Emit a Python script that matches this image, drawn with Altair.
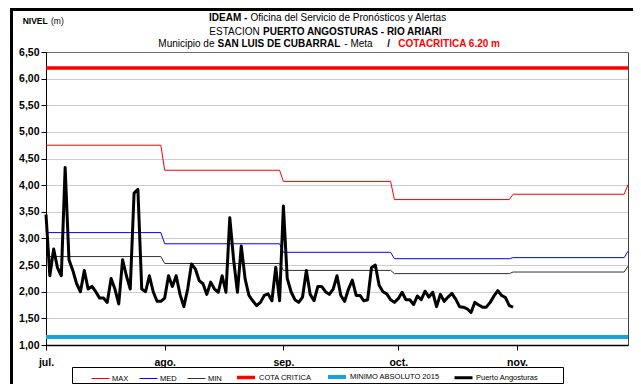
import altair as alt
import pandas as pd

# ---------------- data ----------------
series = ["MAX", "MED", "MIN", "COTA CRITICA", "MINIMO ABSOLUTO 2015", "Puerto Angosturas"]

# monthly reference levels (jul, ago, sep, oct, nov, dic) and the day each one starts
ref_start_days = [0, 31, 62, 91, 122, 152]
ref_max = [4.75, 4.28, 4.07, 3.73, 3.83, 4.01]
ref_med = [3.11, 2.90, 2.74, 2.62, 2.64, 2.76]
ref_min = [2.66, 2.53, 2.40, 2.34, 2.37, 2.48]
cota_critica = 6.20
minimo_absoluto = 1.15
last_day = 152

# daily level Puerto Angosturas from 1 jul
nivel = [
    3.45, 2.30, 2.80, 2.45, 2.30, 4.33, 2.60, 2.40, 2.15, 2.00,
    2.40, 2.05, 2.10, 2.00, 1.88, 1.88, 1.80, 2.25, 2.05, 1.77,
    2.60, 2.30, 2.05, 3.85, 3.92, 2.05, 2.00, 2.30, 2.00, 1.82,
    1.82, 1.88, 2.30, 2.10, 2.30, 1.95, 1.72, 2.05, 2.52, 2.43,
    2.21, 2.15, 1.95, 2.18, 2.05, 1.99, 2.30, 1.99, 3.39, 2.60,
    1.99, 2.86, 2.24, 1.93, 1.83, 1.74, 1.80, 1.93, 1.96, 1.83,
    2.46, 1.83, 3.61, 2.25, 2.00, 1.85, 1.80, 1.90, 2.40, 1.95,
    1.83, 2.10, 2.10, 2.00, 1.95, 2.05, 2.30, 1.93, 1.82, 2.05,
    2.22, 1.93, 1.93, 1.83, 1.85, 2.45, 2.50, 2.12, 2.00, 1.96,
    1.85, 1.80, 1.87, 1.99, 1.85, 1.85, 1.76, 1.92, 1.85, 2.01,
    1.90, 1.99, 1.72, 1.95, 1.82, 1.90, 1.97, 1.86, 1.72, 1.71,
    1.68, 1.61, 1.80, 1.75, 1.71, 1.71, 1.80, 1.92, 2.02, 1.93,
    1.89, 1.74, 1.71,
]

month_ticks = [0, 31, 62, 92, 123]
month_labels = ["jul.", "ago.", "sep.", "oct.", "nov."]
y_ticks = [1.0, 1.5, 2.0, 2.5, 3.0, 3.5, 4.0, 4.5, 5.0, 5.5, 6.0, 6.5]

# ---------------- tables ----------------
rows = []
for name, vals in [("MAX", ref_max), ("MED", ref_med), ("MIN", ref_min)]:
    for i, v in enumerate(vals):
        start = ref_start_days[i]
        rows.append({"dia": start, "nivel": v, "serie": name})
        if i + 1 < len(vals):
            rows.append({"dia": ref_start_days[i + 1] - 1, "nivel": v, "serie": name})
for name, v in [("COTA CRITICA", cota_critica), ("MINIMO ABSOLUTO 2015", minimo_absoluto)]:
    rows.append({"dia": 0, "nivel": v, "serie": name})
    rows.append({"dia": last_day, "nivel": v, "serie": name})
ref_df = pd.DataFrame(rows)
obs_df = pd.DataFrame({"dia": list(range(len(nivel))), "nivel": nivel,
                       "serie": ["Puerto Angosturas"] * len(nivel)})

colors = ["#ff0000", "#0000ff", "#333333", "#ff0000", "#1ba1dc", "#000000"]
widths = [1, 1, 1, 3.5, 4, 3]

FONT = "Liberation Sans"

leg = alt.Legend(orient="none", legendX=45, legendY=314, direction="horizontal",
                 title=None, symbolType="stroke", symbolSize=324,
                 labelFont=FONT, labelFontSize=7.5, labelColor="black",
                 padding=0, columnPadding=8, labelOffset=2)

x_enc = alt.X("dia:Q", scale=alt.Scale(domain=[0, last_day], nice=False, zero=False),
              axis=alt.Axis(values=month_ticks, title=None, grid=False,
                            labelExpr="%s[indexof(%s, datum.value)]" % (
                                str(month_labels), str(month_ticks)),
                            labelFont=FONT, labelFontWeight="bold", labelFontSize=10.5,
                            labelColor="black", tickColor="black", tickSize=5,
                            labelPadding=7, domainColor="black", domainWidth=1.5,
                            labelFlush=False))
y_enc = alt.Y("nivel:Q", scale=alt.Scale(domain=[1.0, 6.5], nice=False, zero=False),
              axis=alt.Axis(values=y_ticks, title=None, grid=True,
                            labelExpr="replace(format(datum.value, '.2f'), '.', ',')",
                            labelFont=FONT, labelFontWeight="bold", labelFontSize=10.5,
                            labelColor="black", tickColor="black", tickSize=5,
                            labelPadding=2, domainColor="black",
                            gridColor="#9a9a9a", gridDash=[1, 1], labelFlush=False))
color_enc = alt.Color("serie:N", scale=alt.Scale(domain=series, range=colors), legend=leg)
sw_enc = alt.StrokeWidth("serie:N", scale=alt.Scale(type="ordinal", domain=series, range=widths),
                         legend=leg)

ref = alt.Chart(ref_df).mark_line().encode(x=x_enc, y=y_enc, color=color_enc, strokeWidth=sw_enc)
obs = alt.Chart(obs_df).mark_line(strokeJoin="round").encode(
    x=x_enc, y=y_enc, color=color_enc, strokeWidth=sw_enc)

one = pd.DataFrame({"a": [0]})


def txt(s, x, y, bold=False, color="black", size=10, align="left"):
    return alt.Chart(one).mark_text(
        text=s, font=FONT, fontSize=size, fontWeight="bold" if bold else "normal",
        color=color, align=align, baseline="alphabetic"
    ).encode(x=alt.value(x), y=alt.value(y))


texts = [
    txt("NIVEL", -23.3, -28, bold=True, size=8.5),
    txt("(m)", 5, -28, size=8.5),
    txt("IDEAM -", 163, -31.3, bold=True),
    txt("Oficina del Servicio de Pronósticos y Alertas", 204.5, -31.3),
    txt("ESTACION", 163.3, -17.3),
    txt("PUERTO ANGOSTURAS - RIO ARIARI", 217, -17.3, bold=True),
    txt("Municipio de", 112.3, -5.3),
    txt("SAN LUIS DE CUBARRAL", 171.5, -5.3, bold=True),
    txt("- Meta", 298.3, -5.3),
    txt("/", 341.3, -5.3, bold=True),
    txt("COTACRITICA 6.20 m", 352.3, -5.3, bold=True, color="#ff0000"),
]

frame = alt.Chart(one).mark_rect(fillOpacity=0, stroke="black", strokeWidth=3).encode(
    x=alt.value(-34.5), y=alt.value(-42.5), x2=alt.value(800), y2=alt.value(600))

legend_box = alt.Chart(one).mark_rect(fillOpacity=0, stroke="black", strokeWidth=1).encode(
    x=alt.value(26.5), y=alt.value(315.5), x2=alt.value(517.5), y2=alt.value(331.5))

chart = alt.layer(ref, obs, *texts, legend_box, frame).properties(
    width=582, height=293,
    autosize=alt.AutoSizeParams(type="none"),
    padding={"left": 38, "top": 44, "right": 5, "bottom": 39},
    background="white",
).configure_view(stroke="#404040", strokeWidth=1)

chart.save("out.html", embed_options={"renderer": "svg", "actions": False})
